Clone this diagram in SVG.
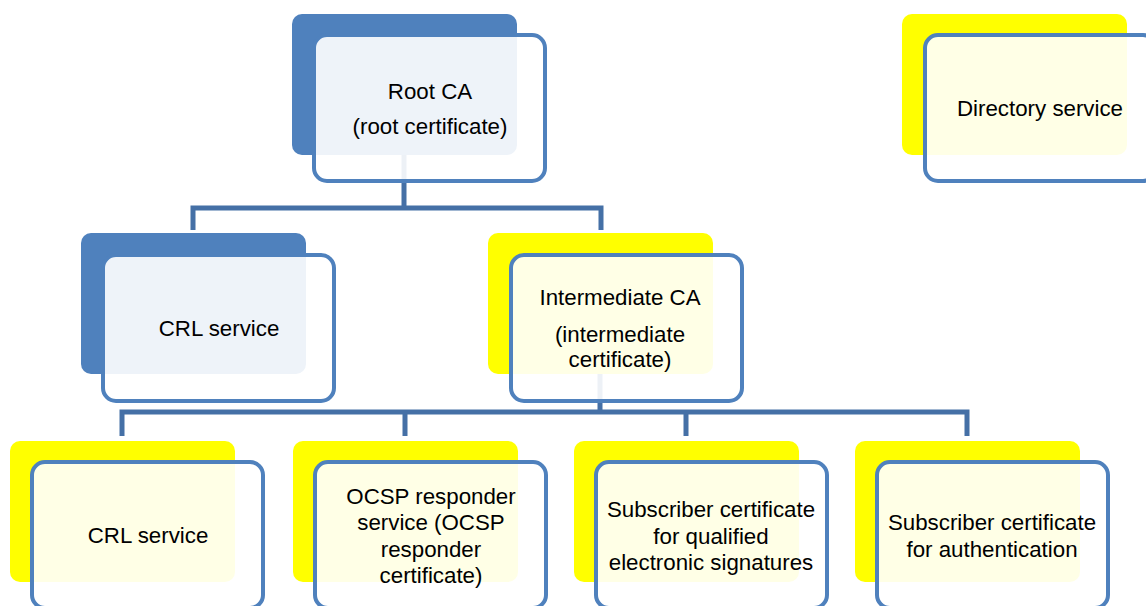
<svg xmlns="http://www.w3.org/2000/svg" width="1146" height="606" viewBox="0 0 1146 606">
<style>
.bb{fill:#4F81BD}
.by{fill:#FFFF00}
.fr{fill:#FFFFFF;fill-opacity:0.9;stroke:#4F81BD;stroke-width:4}
.cn{fill:none;stroke:#4570A6;stroke-width:5}
text{font-family:"Liberation Sans",Arial,sans-serif;font-size:22.3px;fill:#000;text-anchor:middle}
</style>
<rect width="1146" height="606" fill="#FFFFFF"/>
<g id="connectors">
<path class="cn" d="M404,155 V208 M193,230 V208 H601 V230"/>
<path class="cn" d="M600,374 V412 M122,436 V412 H967 V436 M405,412 V436 M686,412 V436"/>
</g>
<g id="root">
<rect class="bb" x="292" y="14" width="225" height="141" rx="10"/>
<rect class="fr" x="314" y="35" width="231" height="146" rx="13"/>
<text x="430" y="99">Root CA</text>
<text x="430" y="134">(root certificate)</text>
</g>
<g id="directory">
<rect class="by" x="902" y="14" width="225" height="141" rx="10"/>
<rect class="fr" x="925" y="35" width="231" height="146" rx="13"/>
<text x="1040" y="116">Directory service</text>
</g>
<g id="crl1">
<rect class="bb" x="81" y="233" width="225" height="141" rx="10"/>
<rect class="fr" x="103" y="255" width="231" height="146" rx="13"/>
<text x="219" y="336">CRL service</text>
</g>
<g id="intermediate">
<rect class="by" x="488" y="233" width="225" height="141" rx="10"/>
<rect class="fr" x="511" y="255" width="231" height="146" rx="13"/>
<text x="620" y="305">Intermediate CA</text>
<text x="620" y="342">(intermediate</text>
<text x="620" y="367">certificate)</text>
</g>
<g id="crl2">
<rect class="by" x="10" y="441" width="225" height="141" rx="10"/>
<rect class="fr" x="32" y="462" width="231" height="146" rx="13"/>
<text x="148" y="543">CRL service</text>
</g>
<g id="ocsp">
<rect class="by" x="293" y="441" width="225" height="141" rx="10"/>
<rect class="fr" x="315" y="462" width="231" height="146" rx="13"/>
<text x="431" y="504">OCSP responder</text>
<text x="431" y="530">service (OCSP</text>
<text x="431" y="557">responder</text>
<text x="431" y="583">certificate)</text>
</g>
<g id="subqual">
<rect class="by" x="574" y="441" width="225" height="141" rx="10"/>
<rect class="fr" x="596" y="462" width="231" height="146" rx="13"/>
<text x="711" y="517">Subscriber certificate</text>
<text x="711" y="544">for qualified</text>
<text x="711" y="570">electronic signatures</text>
</g>
<g id="subauth">
<rect class="by" x="855" y="441" width="225" height="141" rx="10"/>
<rect class="fr" x="877" y="462" width="231" height="146" rx="13"/>
<text x="992" y="530">Subscriber certificate</text>
<text x="992" y="557">for authentication</text>
</g>
</svg>
